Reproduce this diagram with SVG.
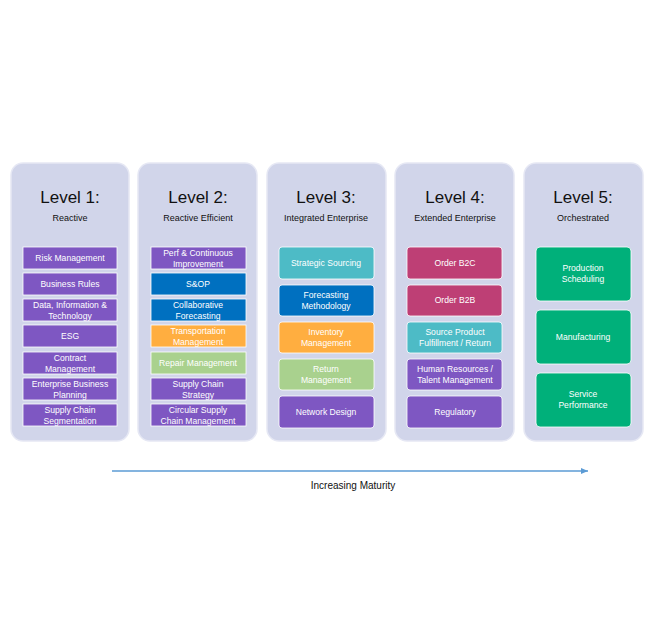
<svg xmlns="http://www.w3.org/2000/svg" width="658" height="622" viewBox="0 0 658 622">
<style>
text{font-family:"Liberation Sans",Arial,sans-serif;text-anchor:middle}
.col{fill:#D1D5EA;stroke:#E6E8F4;stroke-width:1.5}
.t{font-size:17px;fill:#111}
.s{font-size:9px;fill:#111}
.b text{font-size:8.6px;fill:#fff}
.b rect{stroke:#fff;stroke-width:0.8}
.p{fill:#7E57C2}.bl{fill:#0070C0}.o{fill:#FFAE40}.lg{fill:#A9D18E}.tl{fill:#4DBBC6}.m{fill:#BE3F75}.g{fill:#00B07A}
</style>
<rect width="658" height="622" fill="#fff"/>
<g id="level1"><rect class="col" x="11" y="163" width="118" height="278" rx="12"/><text class="t" x="70" y="203">Level 1:</text><text class="s" x="70" y="221">Reactive</text></g>
<g id="level2"><rect class="col" x="138" y="163" width="119" height="278" rx="12"/><text class="t" x="198" y="203">Level 2:</text><text class="s" x="198" y="221">Reactive Efficient</text></g>
<g id="level3"><rect class="col" x="267" y="163" width="119" height="278" rx="12"/><text class="t" x="326" y="203">Level 3:</text><text class="s" x="326" y="221">Integrated Enterprise</text></g>
<g id="level4"><rect class="col" x="395" y="163" width="119" height="278" rx="12"/><text class="t" x="455" y="203">Level 4:</text><text class="s" x="455" y="221">Extended Enterprise</text></g>
<g id="level5"><rect class="col" x="524" y="163" width="119" height="278" rx="12"/><text class="t" x="583" y="203">Level 5:</text><text class="s" x="583" y="221">Orchestrated</text></g>

<g class="b">
<g id="n1a"><rect class="p" x="23" y="247" width="94" height="22"/><text x="70" y="261">Risk Management</text></g>
<g id="n1b"><rect class="p" x="23" y="273" width="94" height="22"/><text x="70" y="287">Business Rules</text></g>
<g id="n1c"><rect class="p" x="23" y="299" width="94" height="22"/><text x="70" y="308">Data, Information &amp;</text><text x="70" y="319">Technology</text></g>
<g id="n1d"><rect class="p" x="23" y="325" width="94" height="22"/><text x="70" y="339">ESG</text></g>
<g id="n1e"><rect class="p" x="23" y="352" width="94" height="22"/><text x="70" y="361">Contract</text><text x="70" y="372">Management</text></g>
<g id="n1f"><rect class="p" x="23" y="378" width="94" height="22"/><text x="70" y="387">Enterprise Business</text><text x="70" y="398">Planning</text></g>
<g id="n1g"><rect class="p" x="23" y="404" width="94" height="22"/><text x="70" y="413">Supply Chain</text><text x="70" y="424">Segmentation</text></g>

<g id="n2a"><rect class="p" x="151" y="247" width="95" height="22"/><text x="198" y="256">Perf &amp; Continuous</text><text x="198" y="267">Improvement</text></g>
<g id="n2b"><rect class="bl" x="151" y="273" width="95" height="22"/><text x="198" y="287">S&amp;OP</text></g>
<g id="n2c"><rect class="bl" x="151" y="299" width="95" height="22"/><text x="198" y="308">Collaborative</text><text x="198" y="319">Forecasting</text></g>
<g id="n2d"><rect class="o" x="151" y="325" width="95" height="22"/><text x="198" y="334">Transportation</text><text x="198" y="345">Management</text></g>
<g id="n2e"><rect class="lg" x="151" y="352" width="95" height="22"/><text x="198" y="366">Repair Management</text></g>
<g id="n2f"><rect class="p" x="151" y="378" width="95" height="22"/><text x="198" y="387">Supply Chain</text><text x="198" y="398">Strategy</text></g>
<g id="n2g"><rect class="p" x="151" y="404" width="95" height="22"/><text x="198" y="413">Circular Supply</text><text x="198" y="424">Chain Management</text></g>

<g id="n3a"><rect class="tl" x="279" y="247" width="95" height="32" rx="3"/><text x="326" y="266">Strategic Sourcing</text></g>
<g id="n3b"><rect class="bl" x="279" y="285" width="95" height="31" rx="3"/><text x="326" y="298">Forecasting</text><text x="326" y="309">Methodology</text></g>
<g id="n3c"><rect class="o" x="279" y="322" width="95" height="31" rx="3"/><text x="326" y="335">Inventory</text><text x="326" y="346">Management</text></g>
<g id="n3d"><rect class="lg" x="279" y="359" width="95" height="31" rx="3"/><text x="326" y="372">Return</text><text x="326" y="383">Management</text></g>
<g id="n3e"><rect class="p" x="279" y="396" width="95" height="32" rx="3"/><text x="326" y="415">Network Design</text></g>

<g id="n4a"><rect class="m" x="407" y="247" width="95" height="32" rx="3"/><text x="455" y="266">Order B2C</text></g>
<g id="n4b"><rect class="m" x="407" y="285" width="95" height="31" rx="3"/><text x="455" y="303">Order B2B</text></g>
<g id="n4c"><rect class="tl" x="407" y="322" width="95" height="31" rx="3"/><text x="455" y="335">Source Product</text><text x="455" y="346">Fulfillment / Return</text></g>
<g id="n4d"><rect class="p" x="407" y="359" width="95" height="31" rx="3"/><text x="455" y="372">Human Resources /</text><text x="455" y="383">Talent Management</text></g>
<g id="n4e"><rect class="p" x="407" y="396" width="95" height="32" rx="3"/><text x="455" y="415">Regulatory</text></g>

<g id="n5a"><rect class="g" x="536" y="247" width="95" height="54" rx="4"/><text x="583" y="271">Production</text><text x="583" y="282">Scheduling</text></g>
<g id="n5b"><rect class="g" x="536" y="310" width="95" height="54" rx="4"/><text x="583" y="340">Manufacturing</text></g>
<g id="n5c"><rect class="g" x="536" y="373" width="95" height="54" rx="4"/><text x="583" y="397">Service</text><text x="583" y="408">Performance</text></g>
</g>

<defs><marker id="ah" markerWidth="8" markerHeight="8" refX="7" refY="4" orient="auto" markerUnits="userSpaceOnUse"><path d="M0,1 L7,4 L0,7 Z" fill="#5B9BD5"/></marker></defs>
<g id="connectors"><line x1="112" y1="471" x2="588" y2="471" stroke="#5B9BD5" stroke-width="1.5" marker-end="url(#ah)"/></g>
<text x="353" y="489" style="font-size:10px;fill:#111">Increasing Maturity</text>
</svg>
